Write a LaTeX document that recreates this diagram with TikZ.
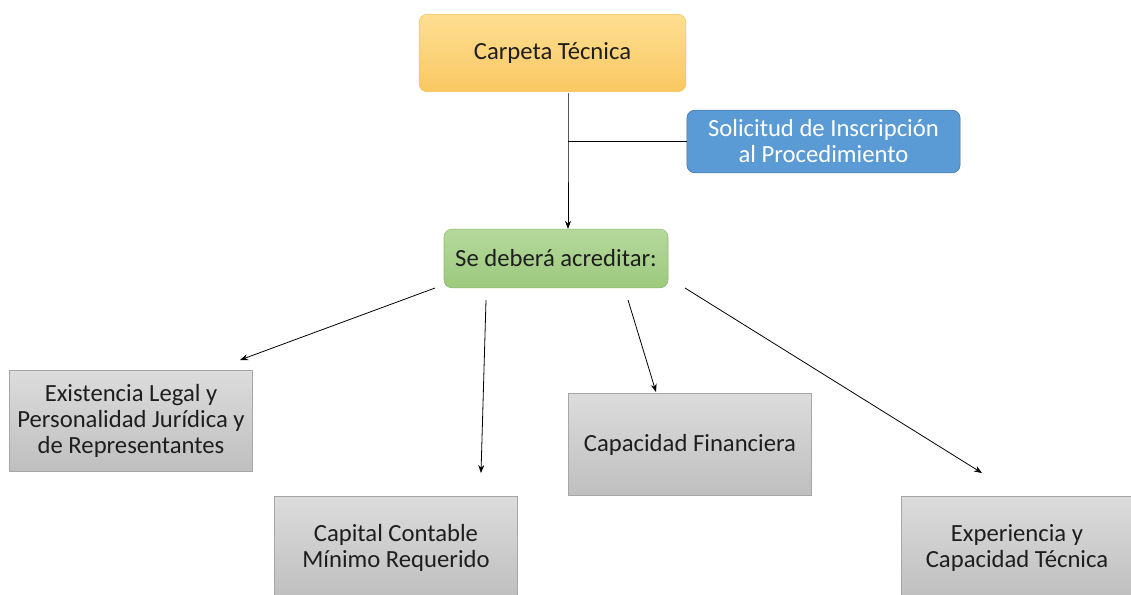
\documentclass[tikz,border=0pt]{standalone}
\usepackage{fontspec}
\setmainfont{Carlito}
\usepackage{tikz}
\usetikzlibrary{arrows.meta}

\definecolor{orangetop}{HTML}{FFDE93}
\definecolor{orangebot}{HTML}{F9C861}
\definecolor{orangeline}{HTML}{F4C04E}
\definecolor{bluefill}{HTML}{5B9BD5}
\definecolor{blueline}{HTML}{41719C}
\definecolor{greentop}{HTML}{B5D99C}
\definecolor{greenbot}{HTML}{9CC97D}
\definecolor{greenline}{HTML}{8DBB6E}
\definecolor{graytop}{HTML}{DCDCDC}
\definecolor{graybot}{HTML}{BFBFBF}
\definecolor{grayline}{HTML}{A6A6A6}
\definecolor{txt}{HTML}{1E1E1E}

\begin{document}
\begin{tikzpicture}[x=0.75pt,y=-0.75pt]
  \tikzstyle{every node}=[align=center,text=txt,font=\fontsize{18.5}{19.5}\selectfont]
  \tikzstyle{round box}=[rounded corners=6pt,inner sep=0pt]
  \tikzstyle{gray box}=[draw=grayline,line width=0.6pt,top color=graytop,bottom color=graybot,minimum width=182pt,inner sep=0pt]
  \tikzstyle{link}=[-{Stealth[length=6pt,width=4.5pt]},line width=0.6pt]
  \useasboundingbox (0,0) rectangle (1131,594);

  % top of the chart
  \node (carp) [round box,draw=orangeline,top color=orangetop,bottom color=orangebot,
    minimum width=200pt,minimum height=58pt] at (552.5,53) {Carpeta Técnica};
  \node (sol) [round box,draw=blueline,fill=bluefill,text=white,
    minimum width=205pt,minimum height=47pt] at (823.5,141.5) {Solicitud de Inscripción\\al Procedimiento};
  \node (acr) [round box,draw=greenline,top color=greentop,bottom color=greenbot,
    minimum width=168pt,minimum height=44pt] at (556,258.5) {Se deberá acreditar:};

  % the four requirements
  \node (leg) [gray box,minimum height=76pt] at (131,421) {Existencia Legal y\\Personalidad Jurídica y\\de Representantes};
  \node (cap) [gray box,minimum height=76pt,text depth=2pt] at (396,547) {Capital Contable\\Mínimo Requerido};
  \node (fin) [gray box,minimum height=77pt] at (690,444.5) {Capacidad Financiera};
  \node (exp) [gray box,minimum width=174pt,minimum height=76pt,text depth=2pt] at (1017,547) {Experiencia y\\Capacidad Técnica};

  \coordinate (top) at (568,93);
  \coordinate (mid) at (top |- sol.west);
  \coordinate (s1) at (435,288);
  \coordinate (s2) at (486,300);
  \coordinate (s3) at (628,300);
  \coordinate (s4) at (685,288);
  \coordinate (e1) at (240,360);
  \coordinate (e2) at (481,473);
  \coordinate (e3) at (656,392);
  \coordinate (e4) at (982,473);

  \draw [link] (top) -- (mid) -- (mid |- acr.north);
  \draw [line width=0.6pt] (mid) -- (sol.west);
  \draw [link] (s1) -- (e1);
  \draw [link] (s2) -- (e2);
  \draw [link] (s3) -- (e3);
  \draw [link] (s4) -- (e4);
\end{tikzpicture}
\end{document}
